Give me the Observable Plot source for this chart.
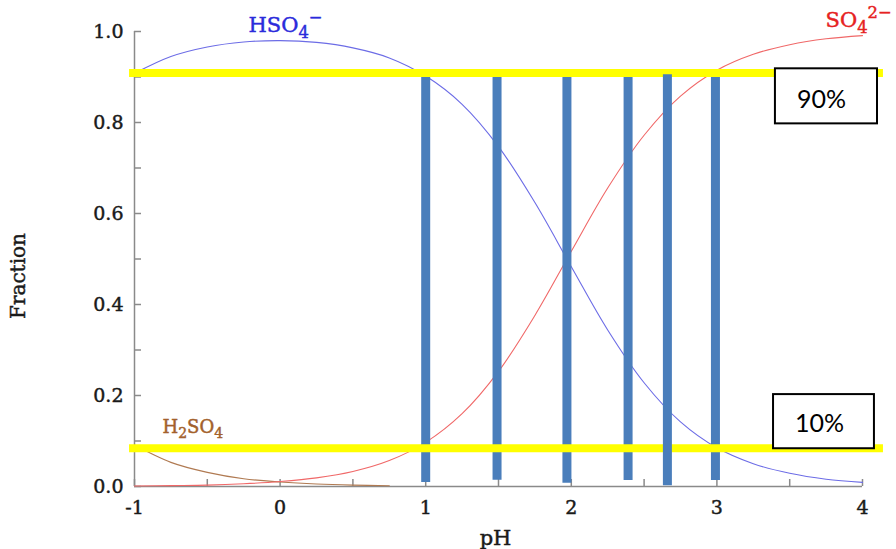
<!DOCTYPE html>
<html><head><meta charset="utf-8">
<script src="https://cdn.jsdelivr.net/npm/d3@7"></script>
<script src="https://cdn.jsdelivr.net/npm/@observablehq/plot@0.6"></script>
<style>body{margin:0;background:#fff}</style>
</head><body><div id="chart"></div>
<script>
// ---- data ----
const pH = [-1, -0.75, -0.5, -0.25, 0, 0.25, 0.5, 0.75, 1, 1.25, 1.5, 1.75, 2, 2.25, 2.5, 2.75, 3, 3.25, 3.5, 3.75, 4];
const fracHSO4 = [0.908, 0.945, 0.966, 0.977, 0.980, 0.976, 0.964, 0.942, 0.902, 0.840, 0.747, 0.624, 0.483, 0.344, 0.228, 0.142, 0.085, 0.050, 0.029, 0.016, 0.009];
const fracSO4  = [0.001, 0.002, 0.003, 0.006, 0.011, 0.019, 0.033, 0.057, 0.097, 0.160, 0.253, 0.376, 0.517, 0.656, 0.772, 0.858, 0.915, 0.950, 0.971, 0.984, 0.991];
const pHAcid   = [-1, -0.75, -0.5, -0.25, 0, 0.25, 0.5, 0.75];
const fracH2SO4 = [0.091, 0.053, 0.031, 0.017, 0.010, 0.0055, 0.003, 0.0017];

const xMajor = [-1, 0, 1, 2, 3, 4];
const xMinor = [-0.5, 0.5, 1.5, 2.5, 3.5];
const yMajor = [0, 0.2, 0.4, 0.6, 0.8, 1.0];
const yMinor = [0.1, 0.3, 0.5, 0.7, 0.9];

// highlighted levels (yellow) and their extent in pH
const levels = [0.909, 0.084];
const levelFrom = -1.034, levelTo = 4.144;

// vertical blue bars
const barX      = [1.0, 1.49, 1.97, 2.39, 2.66, 2.99];
const barTop    = [0.899, 0.899, 0.899, 0.899, 0.905, 0.899];
const barBottom = [0.009, 0.014, 0.007, 0.013, 0.0015, 0.013];
const barFront  = [false, false, false, false, true, false];

// boxed percentage labels
const boxText = ["90%", "10%"];
const boxX1 = [3.402, 3.389], boxX2 = [4.103, 4.082];
const boxY1 = [0.918, 0.202], boxY2 = [0.797, 0.083];
const boxTextX = [3.718, 3.705], boxTextY = [0.849, 0.138];

// species labels (parts: [text, kind])
const speciesParts = [
  [["HSO", "n"], ["4", "sub"], ["−", "sup"]],
  [["SO", "n"], ["4", "sub"], ["2−", "sup"]],
  [["H", "n"], ["2", "sub"], ["SO", "n"], ["4", "sub"]]
];
const speciesX = [-0.217, 3.746, -0.808];
const speciesY = [0.999, 1.010, 0.118];
const speciesColor = ["#2b2bdb", "#e62222", "#a3612c"];
const speciesSize = [21, 21, 18];

// ---- tables ----
const rowsHSO4 = pH.map((p, i) => ({pH: p, f: fracHSO4[i]}));
const rowsSO4 = pH.map((p, i) => ({pH: p, f: fracSO4[i]}));
const rowsH2SO4 = pHAcid.map((p, i) => ({pH: p, f: fracH2SO4[i]}));
const bars = barX.map((x, i) => ({x, y1: barBottom[i], y2: barTop[i], front: barFront[i]}));
const boxes = boxText.map((t, i) => ({t, x1: boxX1[i], x2: boxX2[i], y1: boxY1[i], y2: boxY2[i], tx: boxTextX[i], ty: boxTextY[i]}));
const species = speciesParts.map((parts, i) => ({text: parts.map(p => p[0]).join(""), x: speciesX[i], y: speciesY[i], color: speciesColor[i], size: speciesSize[i]}));

const axisColor = "#8a8a8a";
const barColor = "#4a7ebb";
const textColor = "#1a1a1a";

const chart = Plot.plot({
  width: 896, height: 549,
  marginLeft: 134, marginRight: 34, marginTop: 31, marginBottom: 63,
  style: {fontFamily: "DejaVu Serif", background: "#fff", overflow: "visible"},
  x: {domain: [-1, 4], label: null},
  y: {domain: [0, 1], label: null},
  marks: [
    // axis lines and inward ticks
    Plot.ruleY([0], {x1: -1, x2: 4, stroke: axisColor, strokeWidth: 1.5}),
    Plot.ruleX([-1], {y1: 0, y2: 1, stroke: axisColor, strokeWidth: 1.5}),
    Plot.ruleX(xMajor.concat(xMinor), {x: d => d, y1: 0, y2: 0, insetBottom: 7, stroke: axisColor, strokeWidth: 1.5}),
    Plot.ruleY(yMajor.concat(yMinor), {y: d => d, x1: -1, x2: -1, insetRight: -7, stroke: axisColor, strokeWidth: 1.5}),
    Plot.axisX({ticks: xMajor, tickSize: 0, tickPadding: 14, tickFormat: d => String(d), fontSize: 19, color: textColor, label: null}),
    Plot.axisY({ticks: yMajor, tickSize: 0, tickPadding: 11, tickFormat: d => d.toFixed(1), fontSize: 19, color: textColor, label: null}),
    Plot.text(["Fraction"], {frameAnchor: "left", dx: -115.5, dy: 17, rotate: -90, fontSize: 20, fill: textColor, textAnchor: "middle", lineAnchor: "middle"}),
    Plot.text(["pH"], {frameAnchor: "bottom", dx: -3, dy: 52, fontSize: 21, fill: textColor, textAnchor: "middle", lineAnchor: "middle"}),
    // curves
    Plot.line(rowsH2SO4, {x: "pH", y: "f", stroke: "#b07a52", strokeWidth: 1.1, curve: "catmull-rom"}),
    Plot.line(rowsSO4, {x: "pH", y: "f", stroke: "#f06868", strokeWidth: 1.1, curve: "catmull-rom"}),
    Plot.line(rowsHSO4, {x: "pH", y: "f", stroke: "#6c6ce6", strokeWidth: 1.1, curve: "catmull-rom"}),
    // species labels
    Plot.text(species, {x: "x", y: "y", text: "text", fill: "color", fontSize: "size", textAnchor: "start", lineAnchor: "bottom"}),
    // bars behind the yellow levels
    Plot.ruleX(bars.filter(d => !d.front), {x: "x", y1: "y1", y2: "y2", stroke: barColor, strokeWidth: 9}),
    // yellow levels
    Plot.ruleY(levels, {y: d => d, x1: levelFrom, x2: levelTo, stroke: "#ffff00", strokeWidth: 8}),
    Plot.ruleX(bars.filter(d => d.front), {x: "x", y1: "y1", y2: "y2", stroke: barColor, strokeWidth: 9}),
    // boxes
    Plot.rect(boxes, {x1: "x1", x2: "x2", y1: "y1", y2: "y2", fill: "white", stroke: "black", strokeWidth: 2}),
    Plot.text(boxes, {x: "tx", y: "ty", text: "t", fontSize: 25, fontFamily: "Lato", fill: "black", textAnchor: "middle", lineAnchor: "middle"})
  ]
});

// rebuild species labels with real sub/superscripts
const speciesTexts = species.map(d => d.text);
d3.select(chart).selectAll("text").each(function() {
  const i = speciesTexts.indexOf(this.textContent);
  if (i < 0) return;
  const parts = speciesParts[i];
  const t = d3.select(this);
  t.text(null);
  let shift = 0;
  parts.forEach(([s, kind]) => {
    const target = kind === "sub" ? 0.3 : kind === "sup" ? -0.45 : 0;
    const sizeFactor = kind === "n" ? 1 : 0.78;
    const span = t.append("tspan").text(s);
    if (kind !== "n") span.attr("font-size", "0.78em");
    span.attr("dy", ((target - shift) / sizeFactor).toFixed(3) + "em");
    shift = target;
  });
});

document.getElementById("chart").appendChild(chart);

// slightly heavier serif strokes, like the reference rendering
d3.select(chart).selectAll("text").each(function() {
  if (boxText.includes(this.textContent)) return;
  const fill = getComputedStyle(this).fill;
  this.style.stroke = fill;
  this.style.strokeWidth = "0.45px";
});
</script>
</body></html>
